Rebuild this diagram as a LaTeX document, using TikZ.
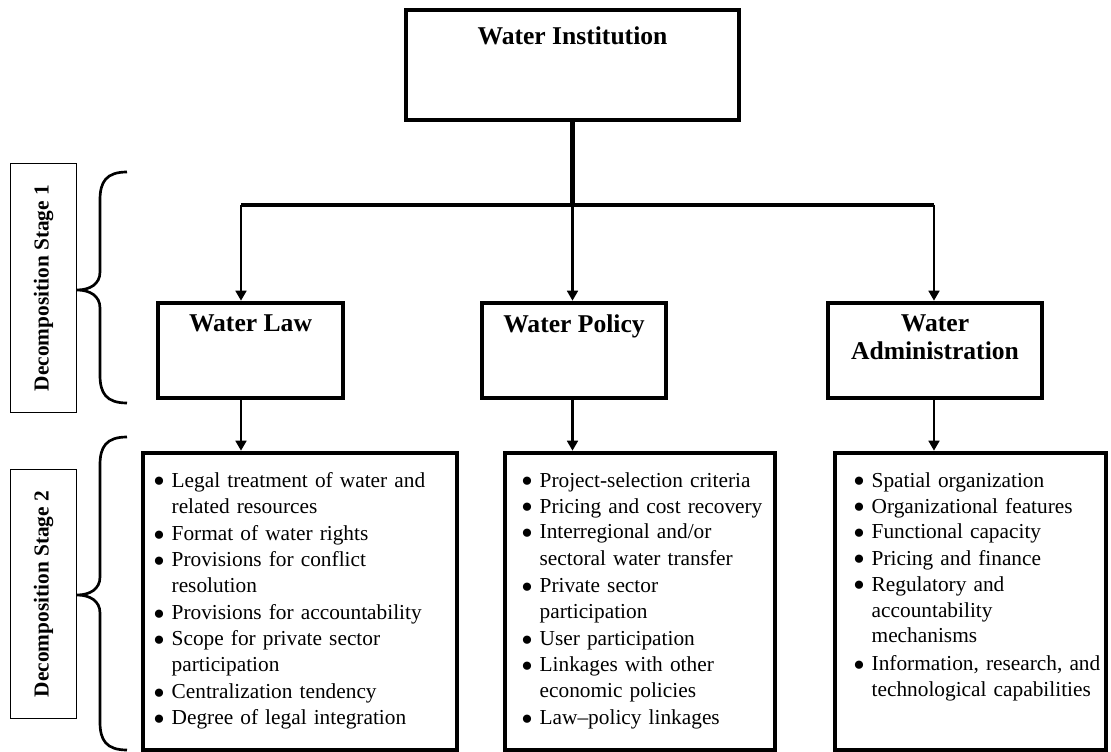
\documentclass[tikz,border=0pt]{standalone}
\usepackage{fontspec}
\setmainfont{Liberation Serif}
\usetikzlibrary{arrows.meta,positioning}
\newcommand{\bul}[1]{\par\noindent\makebox[14pt][l]{\smash{\raisebox{-0.28em}{\scalebox{1.6}{\textbullet}}}}%
  \begin{tabular}[t]{@{}l@{}}#1\end{tabular}}
\tikzset{
  x=0.75pt, y=-0.75pt,
  thickbox/.style={draw, line width=3.4pt, inner sep=0pt},
  headtxt/.style={inner sep=0pt, align=center, font=\bfseries\fontsize{19.2}{21}\selectfont},
  listtxt/.style={inner sep=0pt, anchor=north west, text width=215pt, align=left, font=\fontsize{16}{19.5}\selectfont},
  stagelbl/.style={draw, line width=0.9pt, rotate=90, inner sep=0pt, minimum width=187pt, minimum height=50pt, font=\bfseries\fontsize{16}{18}\selectfont},
  trunk/.style={line width=3.4pt},
  arr/.style={-{Triangle[length=7.5pt,width=8pt]}, line width=2.2pt},
  brace/.style={line width=2pt},
}
\begin{document}
\begin{tikzpicture}
  \useasboundingbox (0,0) rectangle (1111,752);

  % top level
  \node[thickbox, minimum width=249.75pt, minimum height=82.5pt] (inst) at (572.5,65) {};
  \node[headtxt, below=13.9pt of inst.north] (insttxt) {Water Institution};

  % decomposition stage 1
  \node[thickbox, minimum width=138.75pt, minimum height=71.25pt] (law) at (250.5,350.5) {};
  \node[thickbox, minimum width=138pt, minimum height=71.25pt] (policy) at (574,350.5) {};
  \node[thickbox, minimum width=160.5pt, minimum height=71.25pt] (admin) at (935,350.5) {};
  \node[headtxt, below=10.1pt of law.north] (lawtxt) {Water Law};
  \node[headtxt, below=10.1pt of policy.north] (policytxt) {Water Policy};
  \node[headtxt, below=10.1pt of admin.north] (admintxt) {Water\\[0pt]Administration};

  % decomposition stage 2
  \node[thickbox, minimum width=235.5pt, minimum height=222.75pt] (lawlist) at (300,601.5) {};
  \node[thickbox, minimum width=202.5pt, minimum height=222.75pt] (policylist) at (640,601.5) {};
  \node[thickbox, minimum width=203.25pt, minimum height=222.75pt] (adminlist) at (970.5,601.5) {};

  \node[listtxt] (lawitems) at ([shift={(12,10)}]lawlist.north west) {%
    \bul{Legal treatment of water and\\related resources}
    \bul{Format of water rights}
    \bul{Provisions for conflict\\resolution}
    \bul{Provisions for accountability}
    \bul{Scope for private sector\\participation}
    \bul{Centralization tendency}
    \bul{Degree of legal integration}};
  \node[listtxt] (policyitems) at ([shift={(18,10)}]policylist.north west) {%
    \bul{Project-selection criteria}
    \bul{Pricing and cost recovery}
    \bul{Interregional and/or\\sectoral water transfer}
    \bul{Private sector\\participation}
    \bul{User participation}
    \bul{Linkages with other\\economic policies}
    \bul{Law--policy linkages}};
  \node[listtxt] (adminitems) at ([shift={(20,10)}]adminlist.north west) {%
    \bul{Spatial organization}
    \bul{Organizational features}
    \bul{Functional capacity}
    \bul{Pricing and finance}
    \bul{Regulatory and\\accountability\\mechanisms}
    \bul{Information, research, and\\technological capabilities}};

  % connectors
  \coordinate (split) at (572.5,205);
  \coordinate (busL) at (241,205);
  \coordinate (busR) at (934,205);
  \draw[trunk] (inst.south) -- (split);
  \draw[trunk] (busL) -- (busR);
  \draw[arr] (busL) -- (busL |- law.north);
  \draw[arr] (split) -- (split |- policy.north);
  \draw[arr] (busR) -- (busR |- admin.north);
  \draw[arr] (busL |- law.south) -- (busL |- lawlist.north);
  \draw[arr] (split |- policy.south) -- (split |- policylist.north);
  \draw[arr] (busR |- admin.south) -- (busR |- adminlist.north);

  % stage labels and braces
  \node[stagelbl] (stage1) at (43.5,288) {Decomposition Stage 1};
  \node[stagelbl] (stage2) at (43.5,594) {Decomposition Stage 2};
  \foreach \t/\m/\b in {172/290/403, 437/595/750}{
    \draw[brace] (127,\t) .. controls (106,\t) and (100,\t+10) .. (100,\t+28)
      -- (100,\m-18) .. controls (100,\m-6) and (90,\m) .. (77,\m)
      .. controls (90,\m) and (100,\m+6) .. (100,\m+18)
      -- (100,\b-28) .. controls (100,\b-10) and (106,\b) .. (127,\b);
  }
\end{tikzpicture}
\end{document}
